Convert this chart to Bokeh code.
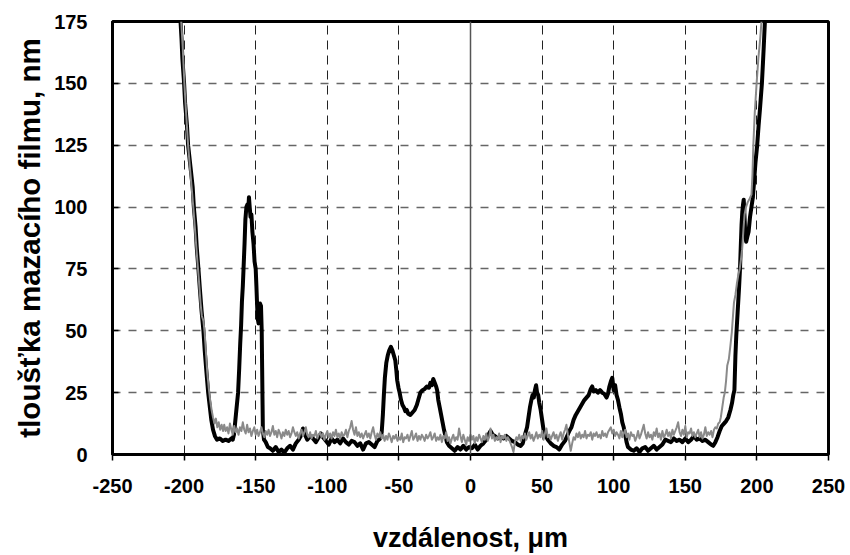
from bokeh.plotting import figure
from bokeh.models import Range1d, FixedTicker, Span
from bokeh.embed import file_html
from bokeh.resources import INLINE

# ---------------- data ----------------
x_ticks = [-250, -200, -150, -100, -50, 0, 50, 100, 150, 200, 250]
y_ticks = [0, 25, 50, 75, 100, 125, 150, 175]

# black profile (vzdálenost µm, tloušťka nm)
black_x = [
    -202.5, -201.8, -201.2, -200.0, -199.3, -198.0, -197.2, -195.5, -194.0, -193.2,
    -192.0, -191.2, -190.0, -189.0, -187.8, -186.5, -185.6, -184.5, -183.2, -182.0,
    -181.0, -179.8, -178.5, -177.0, -175.0, -173.0, -171.0, -169.0, -167.0, -166.0,
    -165.2, -164.5, -163.5, -162.3, -161.5, -160.8, -160.2, -159.6, -159.0, -158.5,
    -157.8, -157.2, -156.5, -155.8, -155.2, -154.7, -154.2, -153.6, -153.0, -152.3,
    -151.5, -150.8, -150.0, -149.5, -149.0, -148.6, -148.0, -147.5, -147.0, -146.3,
    -145.8, -145.5, -145.2, -145.0, -144.2, -143.0, -141.5, -140.0, -138.0, -136.0,
    -134.0, -132.0, -130.0, -128.0, -126.0, -124.0, -122.0, -120.0, -118.0, -117.0,
    -116.0, -114.0, -112.0, -110.0, -108.0, -106.0, -104.5, -103.0, -101.0, -99.0,
    -97.0, -95.0, -93.0, -91.0, -89.0, -87.0, -85.0, -83.0, -81.0, -79.0,
    -77.0, -75.0, -73.0, -71.0, -69.0, -67.0, -65.0, -63.0,
    -62.0, -61.2, -60.5, -59.8, -58.8, -57.8, -56.8, -55.6, -54.5, -53.5,
    -52.5, -51.8, -51.2, -50.3, -49.5, -48.5, -47.5, -46.5, -45.5, -44.5,
    -43.5, -42.0, -40.5, -39.0, -37.5, -36.5, -35.0, -33.5, -32.0, -30.5,
    -29.0, -28.0, -27.0, -26.0, -25.0, -24.0, -23.3, -22.5, -21.5, -20.5,
    -19.5, -18.5, -17.5, -16.5, -15.0, -13.0, -11.0, -9.0, -7.0, -5.0,
    -3.0, -1.0, 1.0, 3.0, 5.0, 7.0, 9.0, 11.0, 12.5, 14.0,
    15.5, 17.0, 19.0, 21.0, 23.0, 25.0, 27.0, 29.0, 31.0, 33.0,
    35.0, 36.5,
    38.0, 39.5, 40.5, 41.5, 42.5, 43.3, 44.2, 45.0, 45.8, 46.5,
    47.3, 48.0, 49.0, 50.0, 51.0, 52.5, 54.0, 56.0, 58.0, 60.0,
    62.0, 64.0, 66.0, 67.5, 69.0, 70.5, 72.0, 73.5, 75.0, 76.5,
    78.0, 79.5, 81.0, 82.5, 84.0, 85.0, 86.0, 87.5, 89.0, 90.5,
    92.0, 93.5, 95.0, 96.0, 97.0, 98.0, 99.0, 100.0, 101.0, 102.0,
    103.0, 104.0, 105.0, 106.0, 107.0, 108.0, 109.0, 110.0, 112.0, 114.0,
    116.0, 118.0, 120.0, 122.0, 124.0, 126.0, 128.0, 130.0, 132.0, 134.0,
    136.0, 138.0, 140.0, 142.0, 144.0, 146.0, 148.0, 150.0, 152.0, 154.0,
    156.0, 158.0, 160.0, 162.0, 164.0, 166.0, 168.0, 169.5, 171.0, 172.5,
    174.0, 175.5, 177.0, 178.5, 180.0, 181.5, 182.7, 183.5, 184.3, 185.0,
    185.6, 186.5, 187.5, 188.2, 188.8, 189.3, 189.8, 190.3, 190.8, 191.3,
    191.8, 192.5, 193.3, 194.2, 195.2, 196.2, 197.2, 198.0, 199.0, 200.2,
    201.2, 202.2, 203.5, 204.2, 204.8, 205.6,
]
black_y = [
    175, 168, 160, 150, 142, 133, 125, 116, 108, 100,
    92, 84, 75, 67, 58, 50, 42, 34, 25, 19,
    14, 10, 7.5, 6, 6.5, 5.5, 6, 5.5, 6.5, 6,
    8, 12, 18, 25, 35, 45, 52, 62, 68, 75,
    85, 95, 100, 101, 99, 104, 100, 96, 97, 90,
    85, 78, 75, 68, 60, 55, 53, 58, 61, 60,
    50, 35, 20, 10, 6, 5, 3, 2.5, 1.5, 3,
    1, 2, 0.8, 2.5, 3.5, 2, 4.5, 6, 8, 10.5,
    8.5, 6, 7.5, 6.5, 5, 7, 8.5, 7, 5.5, 4,
    6.5, 5, 6, 4.5, 6.5, 5, 4, 5.5, 5, 3.5,
    4.5, 2, 4.5, 5, 4, 3, 5.5, 6.5,
    9, 16, 24, 31, 37, 40, 42, 43.5, 42, 40,
    38, 34, 30, 27, 25, 22, 20, 19, 17.5, 18,
    16.5, 16, 17, 18, 20, 22, 25, 26, 26.5, 27.5,
    27, 29, 28, 30.5, 29, 27.5, 26, 22, 19, 16,
    13, 10, 7.5, 5, 3.5, 2.5, 1.5, 3, 2, 3.5,
    2, 3, 2.5, 4, 2, 3.5, 4.5, 6, 8, 9.5,
    8, 7.5, 6.5, 7, 6.5, 7.5, 6.5, 5.5, 5, 4,
    3.5, 4.5,
    8, 11, 15, 19, 22, 24, 23, 26, 28, 25,
    24, 21, 18, 14, 10, 7.5, 6, 4.5, 3.5, 3,
    2, 4, 5.5, 7.5, 9.5, 11, 14, 16, 17.5, 19,
    20.5, 22, 23, 24, 26.5, 27.5, 25.5, 26, 25, 26,
    25, 24.5, 23, 24.5, 27.5, 29.5, 31, 26, 28, 24,
    22, 19, 16.5, 13, 11, 8, 5, 3, 2, 1.5,
    2.5, 1, 2.5, 3, 1.5, 2.5, 3.5, 2, 3, 4,
    6, 5.5, 5, 6.5, 5.5, 6, 5, 6.5, 5, 6,
    7.5, 6, 6.5, 5.5, 6, 5, 4, 3.5, 5, 7,
    9.5, 11.5, 12.5, 13.5, 15, 18, 21, 24, 26, 40,
    48, 57, 67, 75, 85, 93, 98, 101, 103, 97,
    90, 86, 88, 90, 96, 100, 104, 110, 118, 125,
    133, 140, 150, 158, 165, 175,
]

# grey profile: left wall, noisy floor, right wall
grey_left_x = [
    -202.0, -201.0, -199.8, -198.6, -197.2, -195.8, -194.3, -193.3, -192.0, -190.7,
    -189.6, -188.5, -187.6, -186.5, -185.6, -184.7, -183.8, -182.8, -181.8, -180.8,
    -179.8, -178.8, -177.8, -176.8, -175.8, -174.8, -173.8, -172.8,
]
grey_left_y = [
    175, 165, 150, 138, 125, 115, 105, 98, 88, 78,
    70, 61, 56, 54, 49, 41, 33, 27, 22, 18,
    15, 12.5, 14.5, 11, 13, 10, 12, 9.5,
]
grey_floor_x = list(range(-172, 171))
grey_floor_y = [
    12, 9.5, 11, 8.5, 12.5, 10, 8, 11.5, 9, 10.5,
    8, 11, 9.5, 13, 10, 8.5, 12, 9, 10.5, 7.5,
    9.5, 11, 8, 10, 7.5, 9, 11, 8.5, 7, 9.5,
    8, 10, 7.5, 9, 11.5, 8, 9.5, 7, 10, 8.5,
    6.5, 9, 7.5, 10, 8, 9.5, 7, 8.5, 11, 9,
    7.5, 9, 6.5, 8.5, 10, 7.5, 9, 11, 8, 7,
    9, 6.5, 8, 7.5, 9.5, 6.5, 8, 9, 7, 8.5,
    6, 8, 9.5, 7, 8.5, 6.5, 9, 7.5, 10, 7,
    8.5, 6.5, 9, 7.5, 8, 10, 7, 9.5, 11, 13.5,
    10, 8, 11, 7.5, 9, 7, 8.5, 6.5, 8, 9.5,
    7, 8.5, 6.5, 9, 11, 8, 6, 8.5, 7, 9,
    6.5, 8, 5.5, 7.5, 6, 8.5, 7, 5, 7.5, 6.5,
    8, 5.5, 7, 6, 8.5, 5, 7, 6.5, 8, 5.5,
    7.5, 9.5, 6, 7, 8.5, 5.5, 7.5, 6, 8, 7,
    5.5, 8, 6.5, 7.5, 9, 6, 7, 8.5, 5.5, 7,
    6, 8, 5, 7.5, 6.5, 9, 5.5, 7, 4.5, 6.5,
    8, 5.5, 7, 6, 10.5, 7.5, 5, 8, 6, 4,
    7, 5.5, 8, 6, 7.5, 4.5, 7, 5.5, 8, 6.5,
    5, 7.5, 6, 8.5, 5.5, 7, 10.5, 6.5, 8, 5.5,
    7, 6, 8.5, 5, 7.5, 6.5, 8, 5.5, 7, 6,
    4.5, 3, 1, 5, 7, 6, 8, 5.5, 7.5, 6.5,
    8.5, 6, 7.5, 9, 6.5, 8, 5.5, 7, 9, 6.5,
    8, 7, 9.5, 6, 8.5, 10.5, 7, 8, 6, 7.5,
    9, 6.5, 8, 5.5, 7.5, 9, 6, 8.5, 10, 12,
    8, 5, 1.5, 4.5, 7, 6, 8.5, 7, 9, 6.5,
    8, 7, 9.5, 6.5, 8, 7.5, 9, 6, 8.5, 7.5,
    9, 7, 8, 6.5, 9.5, 7.5, 8.5, 7, 9, 10,
    11, 8.5, 10, 7.5, 9, 8, 6.5, 9.5, 7, 8.5,
    10, 7, 8.5, 6, 9, 7.5, 8, 5.5, 7, 9.5,
    6.5, 8, 10, 12, 8.5, 6.5, 9, 7, 8, 6,
    9, 7.5, 10.5, 7, 8.5, 6, 9.5, 7, 8, 10,
    7.5, 9, 6.5, 10, 8, 9.5, 11, 13, 9, 7.5,
    10, 8, 11.5, 7, 9, 8.5, 10.5, 7.5, 9, 7,
    8.5, 10, 7, 9, 6.5, 8, 11, 7.5, 9, 8,
    9.5, 7, 10,
]
grey_right_x = [
    171.0, 172.0, 173.0, 174.0, 174.8, 175.8, 176.8, 177.6, 178.5, 179.3,
    180.4, 181.5, 182.5, 183.3, 184.0, 185.0, 186.0, 187.0, 188.0, 188.9,
    189.7, 190.6, 191.4, 192.4, 193.6, 195.0, 196.2, 196.9, 197.5, 198.5,
    199.8, 201.0, 202.3, 203.2,
]
grey_right_y = [
    11, 10.5, 12.5, 13, 15, 19, 23, 25, 30, 36,
    38.5, 44, 49.5, 56, 61.5, 64.5, 69, 72.5, 75, 79,
    83, 91, 97, 100, 102, 103.5, 105, 113, 125, 138,
    150, 160, 168, 175,
]

grey_x = grey_left_x + grey_floor_x + grey_right_x
grey_y = grey_left_y + grey_floor_y + grey_right_y

# ---------------- figure ----------------
FONT = "Liberation Sans"

p = figure(
    width=850, height=555,
    x_range=Range1d(-250, 250), y_range=Range1d(0, 175),
    output_backend="svg", toolbar_location=None,
    min_border_left=112, min_border_right=22,
    min_border_top=21, min_border_bottom=99,
    background_fill_color="white", border_fill_color="white",
)

p.outline_line_color = "black"
p.outline_line_width = 3

# grid
p.xgrid.ticker = FixedTicker(ticks=[t for t in x_ticks if t not in (-250, 0, 250)])
p.xgrid.grid_line_color = "#222222"
p.xgrid.grid_line_width = 1
p.xgrid.grid_line_dash = "9 6"
p.ygrid.ticker = FixedTicker(ticks=[t for t in y_ticks if t not in (0, 175)])
p.ygrid.grid_line_color = "#666666"
p.ygrid.grid_line_width = 1.5
p.ygrid.grid_line_dash = "8 8"

p.add_layout(Span(location=0, dimension="height", line_color="#555555", line_width=1.5))

# axes
p.xaxis.ticker = FixedTicker(ticks=x_ticks)
p.yaxis.ticker = FixedTicker(ticks=y_ticks)
p.xaxis.major_label_overrides = {t: str(t) for t in x_ticks}
p.yaxis.major_label_overrides = {t: str(t) for t in y_ticks}
for ax in (p.xaxis[0], p.yaxis[0]):
    ax.axis_line_color = "black"
    ax.axis_line_width = 3
    ax.major_tick_line_color = "black"
    ax.major_tick_line_width = 1.5
    ax.minor_tick_line_color = None
    ax.major_label_text_font = FONT
    ax.major_label_text_font_style = "bold"
    ax.major_label_text_font_size = "20px"
    ax.major_label_text_color = "black"
    ax.axis_label_text_font = FONT
    ax.axis_label_text_font_style = "bold"
    ax.axis_label_text_color = "black"

p.xaxis.major_tick_out = 6
p.xaxis.major_tick_in = 0
p.xaxis.major_label_standoff = 18
p.xaxis.axis_label = "vzdálenost, μm"
p.xaxis.axis_label_text_font_size = "27px"
p.xaxis.axis_label_standoff = 27

p.yaxis.major_tick_out = 0
p.yaxis.major_tick_in = 6
p.yaxis.major_label_standoff = 25
p.yaxis.axis_label = "tloušťka mazacího filmu, nm"
p.yaxis.axis_label_text_font_size = "29.5px"
p.yaxis.axis_label_standoff = 5

# data
p.line(black_x, black_y, line_color="black", line_width=4, line_join="round")
p.line(grey_x, grey_y, line_color="#8a8a8a", line_width=2, line_join="round")

open("out.html", "w").write(file_html(p, INLINE))
